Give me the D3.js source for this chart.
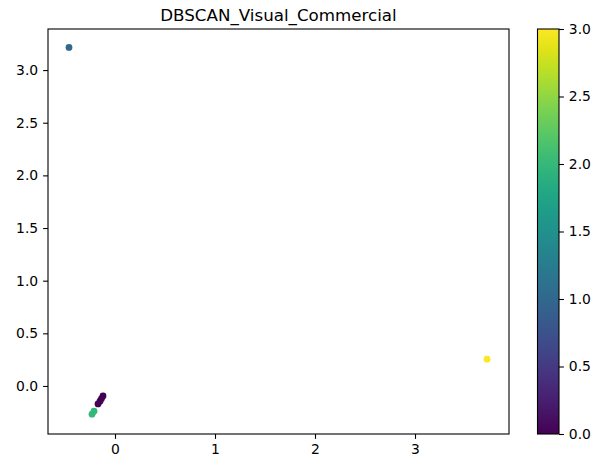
<!DOCTYPE html>
<html>
<head>
<meta charset="utf-8">
<script src="https://cdn.jsdelivr.net/npm/d3@7"></script>
<style>
  html, body { margin: 0; padding: 0; background: #fff; }
  svg { display: block; font-family: "DejaVu Sans", sans-serif; }
</style>
</head>
<body>
<svg id="chart" width="598" height="461"></svg>
<script>
// DBSCAN cluster assignments projected to two dimensions
const xValues = [-0.46, -0.12, -0.135, -0.15, -0.17, -0.21, -0.23, 3.72];
const yValues = [3.215, -0.095, -0.12, -0.145, -0.17, -0.24, -0.268, 0.255];
const clusterLabels = [1, 0, 0, 0, 0, 2, 2, 3];

const xTicks = [0, 1, 2, 3];
const yTicks = [0.0, 0.5, 1.0, 1.5, 2.0, 2.5, 3.0];
const colorTicks = [0.0, 0.5, 1.0, 1.5, 2.0, 2.5, 3.0];
const chartTitle = "DBSCAN_Visual_Commercial";

const svg = d3.select("#chart");
const plot = { left: 48, right: 509, top: 29, bottom: 434 };
const bar = { left: 537.5, right: 559, top: 29, bottom: 434 };

const x = d3.scaleLinear().domain([-0.67, 3.94]).range([plot.left, plot.right]);
const y = d3.scaleLinear().domain([-0.456, 3.39]).range([plot.bottom, plot.top]);
const cScale = d3.scaleLinear().domain([0, 3]).range([bar.bottom, bar.top]);
const color = v => d3.interpolateViridis(v / 3);

const fontSize = "13.9px";

// points
const pts = xValues.map((d, i) => ({ x: d, y: yValues[i], c: clusterLabels[i] }));
svg.append("g").selectAll("circle").data(pts).join("circle")
  .attr("cx", d => x(d.x))
  .attr("cy", d => y(d.y))
  .attr("r", 3.4)
  .attr("fill", d => color(d.c));

// axes
const xAxis = d3.axisBottom(x).tickValues(xTicks).tickFormat(d3.format("d"))
  .tickSize(4.9).tickPadding(4.9);
const yAxis = d3.axisLeft(y).tickValues(yTicks).tickFormat(d3.format(".1f"))
  .tickSize(4.9).tickPadding(4.9);

const gx = svg.append("g").attr("transform", `translate(0,${plot.bottom})`).call(xAxis);
const gy = svg.append("g").attr("transform", `translate(${plot.left},0)`).call(yAxis);
[gx, gy].forEach(g => {
  g.select(".domain").remove();
  g.selectAll("line").attr("stroke", "#000").attr("stroke-width", 1.1);
  g.selectAll("text").attr("fill", "#000").style("font-size", fontSize)
    .style("font-family", "DejaVu Sans, sans-serif");
});

// frame
svg.append("rect")
  .attr("x", plot.left).attr("y", plot.top)
  .attr("width", plot.right - plot.left).attr("height", plot.bottom - plot.top)
  .attr("fill", "none").attr("stroke", "#000").attr("stroke-width", 1.1);

// title
svg.append("text")
  .attr("x", (plot.left + plot.right) / 2).attr("y", 21)
  .attr("text-anchor", "middle")
  .style("font-size", "16.7px")
  .attr("fill", "#000")
  .text(chartTitle);

// colorbar
const defs = svg.append("defs");
const grad = defs.append("linearGradient").attr("id", "viridis")
  .attr("x1", "0").attr("y1", "1").attr("x2", "0").attr("y2", "0");
d3.range(0, 1.0001, 0.05).forEach(t => {
  grad.append("stop").attr("offset", t).attr("stop-color", d3.interpolateViridis(t));
});
svg.append("rect")
  .attr("x", bar.left).attr("y", bar.top)
  .attr("width", bar.right - bar.left).attr("height", bar.bottom - bar.top)
  .attr("fill", "url(#viridis)")
  .attr("stroke", "#000").attr("stroke-width", 1.1);

const cAxis = d3.axisRight(cScale).tickValues(colorTicks).tickFormat(d3.format(".1f"))
  .tickSize(4.9).tickPadding(4.9);
const gc = svg.append("g").attr("transform", `translate(${bar.right},0)`).call(cAxis);
gc.select(".domain").remove();
gc.selectAll("line").attr("stroke", "#000").attr("stroke-width", 1.1);
gc.selectAll("text").attr("fill", "#000").style("font-size", fontSize)
  .style("font-family", "DejaVu Sans, sans-serif");
</script>
</body>
</html>
